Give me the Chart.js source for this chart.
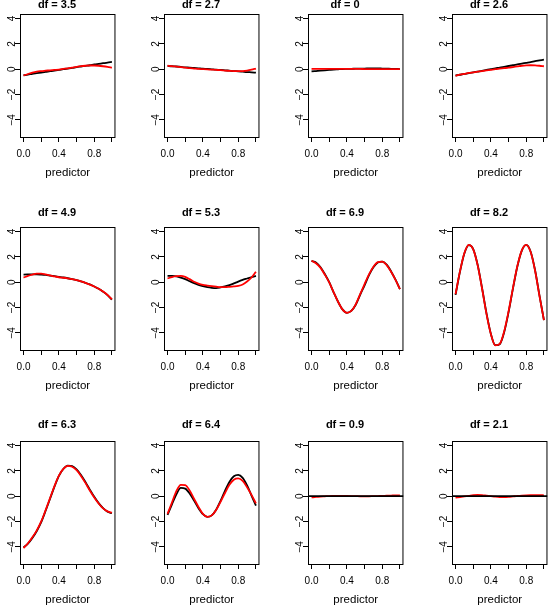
<!DOCTYPE html>
<html>
<head>
<meta charset="utf-8">
<script src="https://cdn.jsdelivr.net/npm/chart.js@4/dist/chart.umd.min.js"></script>
<style>
  html, body { margin: 0; padding: 0; background: #fff; }
  body { width: 549px; height: 606px; position: relative; overflow: hidden; }
  canvas { position: absolute; }
</style>
</head>
<body>
<script>
// x positions of the read-off curve values
const xGrid = [0, 0.05, 0.1, 0.15, 0.2, 0.25, 0.3, 0.35, 0.4, 0.45, 0.5, 0.55, 0.6, 0.65, 0.7, 0.75, 0.8, 0.85, 0.9, 0.95, 1];
const xLimits = [-0.04, 1.04];
const yLimits = [-5.36, 4.36];
const xTicks = [0, 0.2, 0.4, 0.6, 0.8, 1.0];
const xTickLabels = ['0.0', '', '0.4', '', '0.8', ''];
const yTicks = [-4, -2, 0, 2, 4];
const yTickLabels = ['\u22124', '\u22122', '0', '2', '4'];
const dfLabels = ['df = 3.5', 'df = 2.7', 'df = 0', 'df = 2.6',
                  'df = 4.9', 'df = 5.3', 'df = 6.9', 'df = 8.2',
                  'df = 6.3', 'df = 6.4', 'df = 0.9', 'df = 2.1'];

// black = true function, red = fitted
const true1 = [-0.48, -0.43, -0.37, -0.32, -0.27, -0.22, -0.16, -0.11, -0.06, 0.0, 0.05, 0.1, 0.16, 0.21, 0.26, 0.31, 0.37, 0.42, 0.47, 0.52, 0.58];
const fit1  = [-0.5, -0.38, -0.27, -0.19, -0.15, -0.12, -0.09, -0.06, -0.03, 0.02, 0.07, 0.13, 0.19, 0.24, 0.27, 0.29, 0.29, 0.27, 0.23, 0.18, 0.12];
const true2 = [0.26, 0.23, 0.21, 0.18, 0.15, 0.13, 0.1, 0.07, 0.04, 0.02, -0.01, -0.04, -0.06, -0.09, -0.12, -0.15, -0.17, -0.2, -0.23, -0.25, -0.28];
const fit2  = [0.27, 0.24, 0.2, 0.16, 0.12, 0.08, 0.05, 0.02, 0.0, -0.02, -0.04, -0.06, -0.08, -0.11, -0.13, -0.15, -0.16, -0.15, -0.11, -0.04, 0.05];
const true3 = [-0.18, -0.15, -0.12, -0.09, -0.06, -0.03, -0.01, 0.01, 0.02, 0.03, 0.04, 0.05, 0.05, 0.06, 0.06, 0.06, 0.05, 0.04, 0.03, 0.02, 0.01];
const fit3  = [0.03, 0.03, 0.03, 0.03, 0.03, 0.02, 0.02, 0.02, 0.02, 0.02, 0.02, 0.02, 0.01, 0.01, 0.01, 0.01, 0.01, 0.01, 0.0, 0.0, 0.0];
const true4 = [-0.5, -0.44, -0.38, -0.31, -0.25, -0.19, -0.13, -0.06, 0.0, 0.06, 0.13, 0.19, 0.25, 0.31, 0.38, 0.44, 0.5, 0.56, 0.63, 0.69, 0.75];
const fit4  = [-0.52, -0.44, -0.37, -0.3, -0.25, -0.2, -0.15, -0.1, -0.05, 0.0, 0.04, 0.08, 0.12, 0.17, 0.22, 0.27, 0.3, 0.31, 0.3, 0.27, 0.23];
const true5 = [0.6, 0.61, 0.62, 0.62, 0.6, 0.57, 0.52, 0.47, 0.42, 0.37, 0.31, 0.24, 0.16, 0.06, -0.05, -0.18, -0.34, -0.52, -0.75, -1.02, -1.38];
const fit5  = [0.36, 0.5, 0.6, 0.67, 0.68, 0.62, 0.54, 0.45, 0.39, 0.35, 0.3, 0.24, 0.16, 0.06, -0.06, -0.19, -0.34, -0.52, -0.74, -1.01, -1.35];
const true6 = [0.5, 0.49, 0.45, 0.36, 0.24, 0.08, -0.08, -0.21, -0.32, -0.4, -0.45, -0.47, -0.42, -0.34, -0.24, -0.1, 0.05, 0.18, 0.29, 0.4, 0.5];
const fit6  = [0.29, 0.4, 0.47, 0.5, 0.42, 0.24, 0.03, -0.11, -0.21, -0.27, -0.32, -0.36, -0.39, -0.39, -0.37, -0.34, -0.29, -0.18, 0.05, 0.37, 0.82];
const true7 = [1.68, 1.55, 1.2, 0.65, 0.0, -0.8, -1.55, -2.15, -2.42, -2.27, -1.78, -1.0, -0.25, 0.55, 1.18, 1.56, 1.63, 1.38, 0.85, 0.2, -0.55];
const fit7  = [1.7, 1.5, 1.15, 0.6, -0.02, -0.8, -1.55, -2.15, -2.42, -2.27, -1.75, -0.95, -0.15, 0.62, 1.22, 1.58, 1.62, 1.35, 0.82, 0.18, -0.55];
const true8 = [-1.0, 0.82, 2.27, 2.92, 2.62, 1.38, -0.46, -2.45, -4.09, -4.98, -4.9, -3.96, -2.37, -0.49, 1.26, 2.5, 2.94, 2.4, 0.94, -1.06, -3.0];
const fit8  = [-0.95, 0.85, 2.3, 2.95, 2.6, 1.35, -0.5, -2.5, -4.1, -5.0, -4.88, -3.9, -2.3, -0.45, 1.3, 2.52, 2.95, 2.38, 0.9, -1.1, -3.0];
const true9 = [-4.05, -3.75, -3.3, -2.75, -2.05, -1.15, -0.2, 0.75, 1.6, 2.15, 2.42, 2.38, 2.12, 1.68, 1.12, 0.52, -0.05, -0.55, -0.95, -1.22, -1.35];
const fit9  = [-4.1, -3.72, -3.25, -2.7, -2.0, -1.1, -0.15, 0.8, 1.62, 2.15, 2.4, 2.33, 2.05, 1.6, 1.05, 0.45, -0.1, -0.58, -0.97, -1.2, -1.3];
const true10 = [-1.48, -0.65, 0.15, 0.66, 0.6, 0.22, -0.35, -0.95, -1.42, -1.63, -1.52, -1.07, -0.37, 0.42, 1.12, 1.57, 1.68, 1.45, 0.85, 0.05, -0.75];
const fit10  = [-1.4, -0.5, 0.4, 0.9, 0.88, 0.45, -0.2, -0.85, -1.4, -1.64, -1.52, -1.1, -0.45, 0.25, 0.9, 1.3, 1.4, 1.2, 0.7, 0.1, -0.57];
const fit11  = [-0.1, -0.06, -0.03, -0.01, 0.01, 0.02, 0.03, 0.03, 0.02, 0.01, 0.0, -0.01, -0.01, -0.01, 0.0, 0.01, 0.02, 0.04, 0.05, 0.06, 0.06];
const fit12  = [-0.12, -0.07, -0.02, 0.03, 0.08, 0.1, 0.08, 0.04, 0.0, -0.04, -0.07, -0.08, -0.06, -0.02, 0.02, 0.05, 0.07, 0.08, 0.08, 0.08, 0.07];
const zeroLine = [0, 0];

// layout of the 3 x 4 grid (plot box positions on the page)
const colLeft = [20, 164, 308, 452];
const rowTop = [14, 227, 441];
const titleCenter = [5, 213, 425];
const boxW = 96, boxH = 123, axisW = 22, topH = 24, bottomH = 44;

const panels = [
  { black: true1, red: fit1 }, { black: true2, red: fit2 },
  { black: true3, red: fit3 }, { black: true4, red: fit4 },
  { black: true5, red: fit5 }, { black: true6, red: fit6 },
  { black: true7, red: fit7 }, { black: true8, red: fit8 },
  { black: true9, red: fit9 }, { black: true10, red: fit10 },
  { black: zeroLine, red: fit11, hline: true }, { black: zeroLine, red: fit12, hline: true },
];

const FONT = '"Liberation Sans", Arial, Helvetica, sans-serif';

const boxPlugin = {
  id: 'box',
  afterDraw(chart) {
    const { ctx, chartArea: a } = chart;
    ctx.save();
    ctx.strokeStyle = '#000';
    ctx.lineWidth = 1;
    ctx.strokeRect(a.left + 0.5, a.top + 0.5, a.right - a.left - 1, a.bottom - a.top);
    ctx.restore();
  }
};

function toPoints(xs, ys) {
  return ys.map((y, i) => ({ x: xs[i], y: y }));
}

panels.forEach((p, i) => {
  const row = Math.floor(i / 4), col = i % 4;
  const canvas = document.createElement('canvas');
  const w = axisW + boxW + 2, h = topH + boxH + bottomH;
  canvas.width = w;
  canvas.height = h;
  canvas.style.left = (colLeft[col] - axisW) + 'px';
  canvas.style.top = (rowTop[row] - topH) + 'px';
  document.body.appendChild(canvas);

  const titleRel = titleCenter[row] - (rowTop[row] - topH);
  const padTop = titleRel - 6.6;
  const padBottom = topH - padTop - 13.2;

  const blackXs = p.hline ? xLimits : xGrid;
  const redSet = {
    data: toPoints(xGrid, p.red), borderColor: '#ff0000', borderWidth: 1.8,
    pointRadius: 0, cubicInterpolationMode: 'monotone', fill: false,
  };
  const blackSet = {
    data: toPoints(blackXs, p.black), borderColor: '#000000', borderWidth: 1.8,
    pointRadius: 0, cubicInterpolationMode: 'monotone', fill: false,
  };
  // first dataset is drawn on top
  const datasets = p.hline ? [blackSet, redSet] : [redSet, blackSet];

  new Chart(canvas.getContext('2d'), {
    type: 'line',
    data: { datasets: datasets },
    options: {
      responsive: false,
      animation: false,
      devicePixelRatio: 1,
      layout: { padding: { left: 0, right: 2, top: 0, bottom: 0 } },
      plugins: {
        legend: { display: false },
        tooltip: { enabled: false },
        title: {
          display: true,
          text: dfLabels[i],
          color: '#000',
          font: { family: FONT, size: 11, weight: 'bold', lineHeight: 1.2 },
          padding: { top: padTop, bottom: padBottom },
        },
      },
      scales: {
        x: {
          type: 'linear',
          min: xLimits[0],
          max: xLimits[1],
          afterBuildTicks: s => { s.ticks = xTicks.map(v => ({ value: v })); },
          afterFit: s => { s.height = bottomH; },
          border: { display: false },
          grid: { drawOnChartArea: false, drawTicks: true, tickLength: 5, color: '#000' },
          ticks: {
            autoSkip: false, maxRotation: 0, minRotation: 0, padding: 6, color: '#000',
            font: { family: FONT, size: 10 },
            callback: (v, idx) => xTickLabels[idx],
          },
          title: {
            display: true, text: 'predictor', color: '#000',
            font: { family: FONT, size: 11.5 },
            padding: { top: 0, bottom: 1.1 },
          },
        },
        y: {
          type: 'linear',
          min: yLimits[0],
          max: yLimits[1],
          afterBuildTicks: s => { s.ticks = yTicks.map(v => ({ value: v })); },
          afterFit: s => { s.width = axisW; },
          border: { display: false },
          grid: { drawOnChartArea: false, drawTicks: true, tickLength: 5, color: '#000' },
          ticks: {
            autoSkip: false, minRotation: 90, maxRotation: 90, crossAlign: 'center',
            padding: -3.2, color: '#000',
            font: { family: FONT, size: 10 },
            callback: (v, idx) => yTickLabels[idx],
          },
        },
      },
    },
    plugins: [boxPlugin],
  });
});
</script>
</body>
</html>
